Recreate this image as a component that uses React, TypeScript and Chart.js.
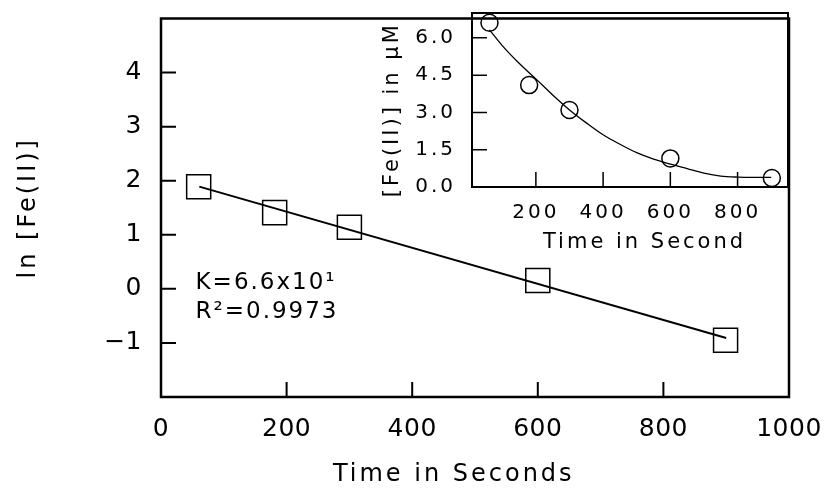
import React, { useEffect, useRef } from 'react';
import { Chart, registerables } from 'chart.js';

Chart.register(...registerables);

const FONT = "'DejaVu Sans', sans-serif";

// ---- main plot data ----
const timeSeconds = [60, 181, 300, 600, 899];
const lnFe = [1.89, 1.41, 1.14, 0.155, -0.95];
const fitTime = [61, 900];
const fitLn = [1.89, -0.91];
const mainXTickLabels = [0, 200, 400, 600, 800, 1000];
const mainYTickLabels = [-1, 0, 1, 2, 3, 4];
const mainXTickMarks = [200, 400, 600, 800];
const mainYTickMarks = [-1, 0, 1, 2, 3, 4];
const annotationLines = ['K=6.6x10\u00B9', 'R\u00B2=0.9973'];
const annotationX = 55;
const annotationY = [0, -0.53];

// ---- inset data ----
const insetTime = [62, 180, 300, 600, 902];
const insetFe = [6.61, 4.1, 3.1, 1.15, 0.36];
const curveTime = [62, 100, 150, 200, 250, 300, 350, 400, 450, 500, 550, 600, 650, 700, 750, 800, 850, 900];
const curveFe = [6.32, 5.69, 4.98, 4.35, 3.7, 3.1, 2.58, 2.1, 1.72, 1.38, 1.12, 0.92, 0.74, 0.56, 0.44, 0.4, 0.39, 0.39];
const insetXTicks = [200, 400, 600, 800];
const insetYTicks = [0, 1.5, 3.0, 4.5, 6.0];

function frameAndTicks(chart: any, xMarks: number[], yMarks: number[], len: number, tickW: number, frameW: number) {
  const { ctx, chartArea: a, scales } = chart;
  ctx.save();
  ctx.strokeStyle = '#000';
  ctx.lineWidth = tickW;
  ctx.beginPath();
  xMarks.forEach((v) => {
    const px = scales.x.getPixelForValue(v);
    ctx.moveTo(px, a.bottom);
    ctx.lineTo(px, a.bottom - len);
  });
  yMarks.forEach((v) => {
    const py = scales.y.getPixelForValue(v);
    ctx.moveTo(a.left, py);
    ctx.lineTo(a.left + len, py);
  });
  ctx.stroke();
  ctx.lineWidth = frameW;
  ctx.strokeRect(a.left, a.top, a.right - a.left, a.bottom - a.top);
  ctx.restore();
}

const noPad = (s: any) => {
  s.paddingLeft = 0;
  s.paddingRight = 0;
  s.paddingTop = 0;
  s.paddingBottom = 0;
};

export default function App() {
  const mainRef = useRef<HTMLCanvasElement>(null);
  const insetRef = useRef<HTMLCanvasElement>(null);

  useEffect(() => {
    const mainPlugin = {
      id: 'mainDeco',
      beforeDraw(chart: any) {
        chart.ctx.letterSpacing = '3px';
      },
      afterDatasetsDraw(chart: any) {
        const ctx = chart.ctx;
        frameAndTicks(chart, mainXTickMarks, mainYTickMarks, 15, 2, 2.5);
        ctx.save();
        ctx.letterSpacing = '2px';
        ctx.fillStyle = '#000';
        ctx.font = `23px ${FONT}`;
        ctx.textAlign = 'left';
        ctx.textBaseline = 'alphabetic';
        const x = chart.scales.x.getPixelForValue(annotationX);
        annotationLines.forEach((t, i) => {
          ctx.fillText(t, x, chart.scales.y.getPixelForValue(annotationY[i]));
        });
        ctx.restore();
        ctx.letterSpacing = '0.5px';
      },
      afterDraw(chart: any) {
        chart.ctx.letterSpacing = '0px';
      },
    };

    const main = new Chart(mainRef.current!, {
      type: 'scatter',
      data: {
        datasets: [
          {
            data: timeSeconds.map((x, i) => ({ x, y: lnFe[i] })),
            pointStyle: 'rect',
            pointRadius: 17,
            borderColor: '#000',
            borderWidth: 1.5,
            backgroundColor: 'rgba(0,0,0,0)',
            showLine: false,
          },
          {
            data: fitTime.map((x, i) => ({ x, y: fitLn[i] })),
            showLine: true,
            borderColor: '#000',
            borderWidth: 2,
            pointRadius: 0,
          },
        ],
      },
      options: {
        responsive: false,
        animation: false,
        devicePixelRatio: 1,
        layout: { padding: { left: 0, top: 13, right: 35, bottom: 0 } },
        plugins: { legend: { display: false }, tooltip: { enabled: false } },
        scales: {
          x: {
            type: 'linear',
            min: 0,
            max: 1000,
            afterFit: (s: any) => {
              s.height = 92;
              noPad(s);
            },
            afterBuildTicks: (s: any) => {
              s.ticks = mainXTickLabels.map((v) => ({ value: v }));
            },
            grid: { display: false, drawTicks: false },
            border: { display: false },
            ticks: {
              padding: 17,
              color: '#000',
              font: { family: FONT, size: 25 },
              maxRotation: 0,
              autoSkip: false,
              z: 1,
              callback: (v: any) => String(v),
            },
            title: {
              display: true,
              text: 'Time in Seconds    ',
              color: '#000',
              font: { family: FONT, size: 24 },
              padding: { top: 0, bottom: 0 },
            },
          },
          y: {
            type: 'linear',
            min: -2,
            max: 5,
            afterFit: (s: any) => {
              s.width = 161;
              noPad(s);
            },
            afterBuildTicks: (s: any) => {
              s.ticks = mainYTickLabels.map((v) => ({ value: v }));
            },
            grid: { display: false, drawTicks: false },
            border: { display: false },
            ticks: {
              padding: 19,
              color: '#000',
              font: { family: FONT, size: 25 },
              z: 1,
              callback: (v: any) => (v < 0 ? '\u2212' + Math.abs(v) : String(v)),
            },
            title: {
              display: true,
              text: 'ln [Fe(II)]',
              color: '#000',
              font: { family: FONT, size: 24 },
              padding: { top: 14, bottom: 0 },
            },
          },
        },
      },
      plugins: [mainPlugin],
    });

    const insetPlugin = {
      id: 'insetDeco',
      beforeDraw(chart: any) {
        chart.ctx.letterSpacing = '3px';
      },
      afterDatasetsDraw(chart: any) {
        frameAndTicks(chart, insetXTicks, insetYTicks.slice(1), 15, 1.5, 2);
        chart.ctx.letterSpacing = '3px';
      },
      afterDraw(chart: any) {
        chart.ctx.letterSpacing = '0px';
      },
    };

    const inset = new Chart(insetRef.current!, {
      type: 'scatter',
      data: {
        datasets: [
          {
            data: insetTime.map((x, i) => ({ x, y: insetFe[i] })),
            pointStyle: 'circle',
            pointRadius: 8.5,
            borderColor: '#000',
            borderWidth: 1.5,
            backgroundColor: 'rgba(0,0,0,0)',
            showLine: false,
          },
          {
            data: curveTime.map((x, i) => ({ x, y: curveFe[i] })),
            showLine: true,
            borderColor: '#000',
            borderWidth: 1.3,
            pointRadius: 0,
            cubicInterpolationMode: 'monotone',
          },
        ],
      },
      options: {
        responsive: false,
        animation: false,
        devicePixelRatio: 1,
        layout: { padding: { left: 0, top: 13, right: 36, bottom: 0 } },
        plugins: { legend: { display: false }, tooltip: { enabled: false } },
        scales: {
          x: {
            type: 'linear',
            min: 10,
            max: 950,
            afterFit: (s: any) => {
              s.height = 83;
              noPad(s);
            },
            afterBuildTicks: (s: any) => {
              s.ticks = insetXTicks.map((v) => ({ value: v }));
            },
            grid: { display: false, drawTicks: false },
            border: { display: false },
            ticks: {
              padding: 14,
              color: '#000',
              font: { family: FONT, size: 20 },
              maxRotation: 0,
              autoSkip: false,
              z: 1,
              callback: (v: any) => String(v),
            },
            title: {
              display: true,
              text: '   Time in Second',
              color: '#000',
              font: { family: FONT, size: 21 },
              padding: { top: 0, bottom: 15 },
            },
          },
          y: {
            type: 'linear',
            min: 0,
            max: 7,
            afterFit: (s: any) => {
              s.width = 92;
              noPad(s);
            },
            afterBuildTicks: (s: any) => {
              s.ticks = insetYTicks.map((v) => ({ value: v }));
            },
            grid: { display: false, drawTicks: false },
            border: { display: false },
            ticks: {
              padding: 16,
              color: '#000',
              font: { family: FONT, size: 20 },
              z: 1,
              callback: (v: any) => Number(v).toFixed(1),
            },
            title: {
              display: true,
              text: '[Fe(II)] in \u03BCM  ',
              color: '#000',
              font: { family: FONT, size: 21 },
              padding: { top: 0, bottom: 0 },
            },
          },
        },
      },
      plugins: [insetPlugin],
    });

    return () => {
      main.destroy();
      inset.destroy();
    };
  }, []);

  return (
    <div style={{ position: 'fixed', left: 0, top: 0, width: 824, height: 489, background: '#fff' }}>
      <canvas ref={mainRef} width={824} height={489} style={{ position: 'absolute', left: 0, top: 0 }} />
      <canvas ref={insetRef} width={444} height={270} style={{ position: 'absolute', left: 380, top: 0 }} />
    </div>
  );
}
